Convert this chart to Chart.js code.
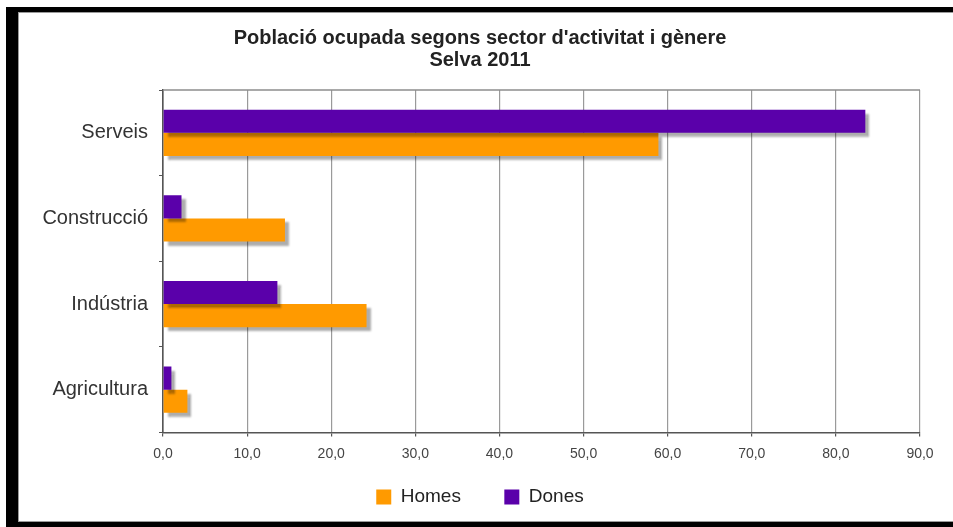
<!DOCTYPE html>
<html>
<head>
<meta charset="utf-8">
<script src="https://cdn.jsdelivr.net/npm/chart.js@4.4.1/dist/chart.umd.min.js"></script>
<style>
  html, body { margin: 0; padding: 0; background: #fff; }
  body { width: 953px; height: 527px; position: relative; overflow: hidden; }
  #frame {
    position: absolute; left: 6px; top: 7px; width: 947px; height: 520px;
    box-sizing: border-box; background: #fff;
    border-left: 12px solid #000; border-top: 5px solid #000; border-bottom: 5px solid #000;
  }
  #inner {
    position: absolute; left: 0; top: 0; width: 935px; height: 510px;
    box-shadow: inset 1px 1px 0 #9a9a9a, inset 0 -1px 0 #9a9a9a;
  }
  canvas { position: absolute; left: 0; top: 0; }
</style>
</head>
<body>
<div id="frame"><div id="inner"><canvas id="chart" width="935" height="510"></canvas></div></div>
<script>
// Sectors, top to bottom
const categories = ['Serveis', 'Construcció', 'Indústria', 'Agricultura'];
// Share of employed population (%) per sector
const dones = [83.5, 2.2, 13.6, 1.0];
const homes = [58.9, 14.5, 24.2, 2.9];
const seriesNames = ['Dones', 'Homes'];
const xTicks = [0, 10, 20, 30, 40, 50, 60, 70, 80, 90];
const titleLines = ["Població ocupada segons sector d'activitat i gènere", 'Selva 2011'];

const FONT = '"Liberation Sans", Arial, Helvetica, sans-serif';

// Soft drop shadow under every bar
const barShadow = {
  id: 'barShadow',
  beforeDatasetsDraw(chart) {
    const c = chart.ctx;
    c.save();
    c.shadowColor = 'rgba(0,0,0,0.32)';
    c.shadowOffsetX = 4;
    c.shadowOffsetY = 4;
    c.shadowBlur = 2;
  },
  afterDatasetsDraw(chart) {
    chart.ctx.restore();
  }
};

// Top edge of the plot frame
const plotFrame = {
  id: 'plotFrame',
  beforeDatasetsDraw(chart) {
    const { ctx, chartArea: a } = chart;
    ctx.save();
    ctx.strokeStyle = '#8c8c8c';
    ctx.lineWidth = 1.5;
    ctx.beginPath();
    ctx.moveTo(a.left, a.top);
    ctx.lineTo(a.right, a.top);
    ctx.stroke();
    ctx.restore();
  }
};

new Chart(document.getElementById('chart'), {
  type: 'bar',
  data: {
    labels: categories,
    datasets: [
      { label: seriesNames[0], data: dones, backgroundColor: '#5a00aa', borderWidth: 0 },
      { label: seriesNames[1], data: homes, backgroundColor: '#ff9a00', borderWidth: 0 }
    ]
  },
  options: {
    indexAxis: 'y',
    responsive: false,
    animation: false,
    events: [],
    categoryPercentage: 0.54,
    barPercentage: 1.0,
    layout: { padding: { left: 22, right: 33, top: 0, bottom: 5.5 } },
    scales: {
      x: {
        min: 0, max: 90,
        afterBuildTicks(scale) { scale.ticks = xTicks.map(v => ({ value: v })); },
        afterFit(scale) { scale.height = 38; },
        ticks: {
          padding: 9,
          color: '#444',
          font: { family: FONT, size: 14 },
          callback: v => v.toFixed(1).replace('.', ',')
        },
        grid: { color: '#9a9a9a', lineWidth: 1.2, tickLength: 4, tickColor: '#555' },
        border: { color: '#555', width: 1.6 }
      },
      y: {
        afterFit(scale) { scale.width = 123; },
        ticks: { padding: 11, color: '#333', font: { family: FONT, size: 20 } },
        grid: { drawOnChartArea: false, drawTicks: true, tickLength: 4, color: '#555' },
        border: { color: '#555', width: 1.6 }
      }
    },
    plugins: {
      tooltip: { enabled: false },
      title: {
        display: true,
        text: titleLines,
        color: '#222',
        font: { family: FONT, size: 20, weight: 'bold', lineHeight: 1.1 },
        padding: { top: 15, bottom: 19 }
      },
      legend: {
        position: 'bottom',
        reverse: true,
        labels: {
          boxWidth: 15, boxHeight: 15,
          padding: 17,
          color: '#222',
          font: { family: FONT, size: 19 },
          // widen the gap between the two legend entries
          generateLabels(chart) {
            const items = Chart.defaults.plugins.legend.labels.generateLabels(chart);
            items.forEach(it => { if (it.text === 'Homes') it.text = 'Homes     '; });
            return items;
          }
        }
      }
    }
  },
  plugins: [plotFrame, barShadow]
});
</script>
</body>
</html>
